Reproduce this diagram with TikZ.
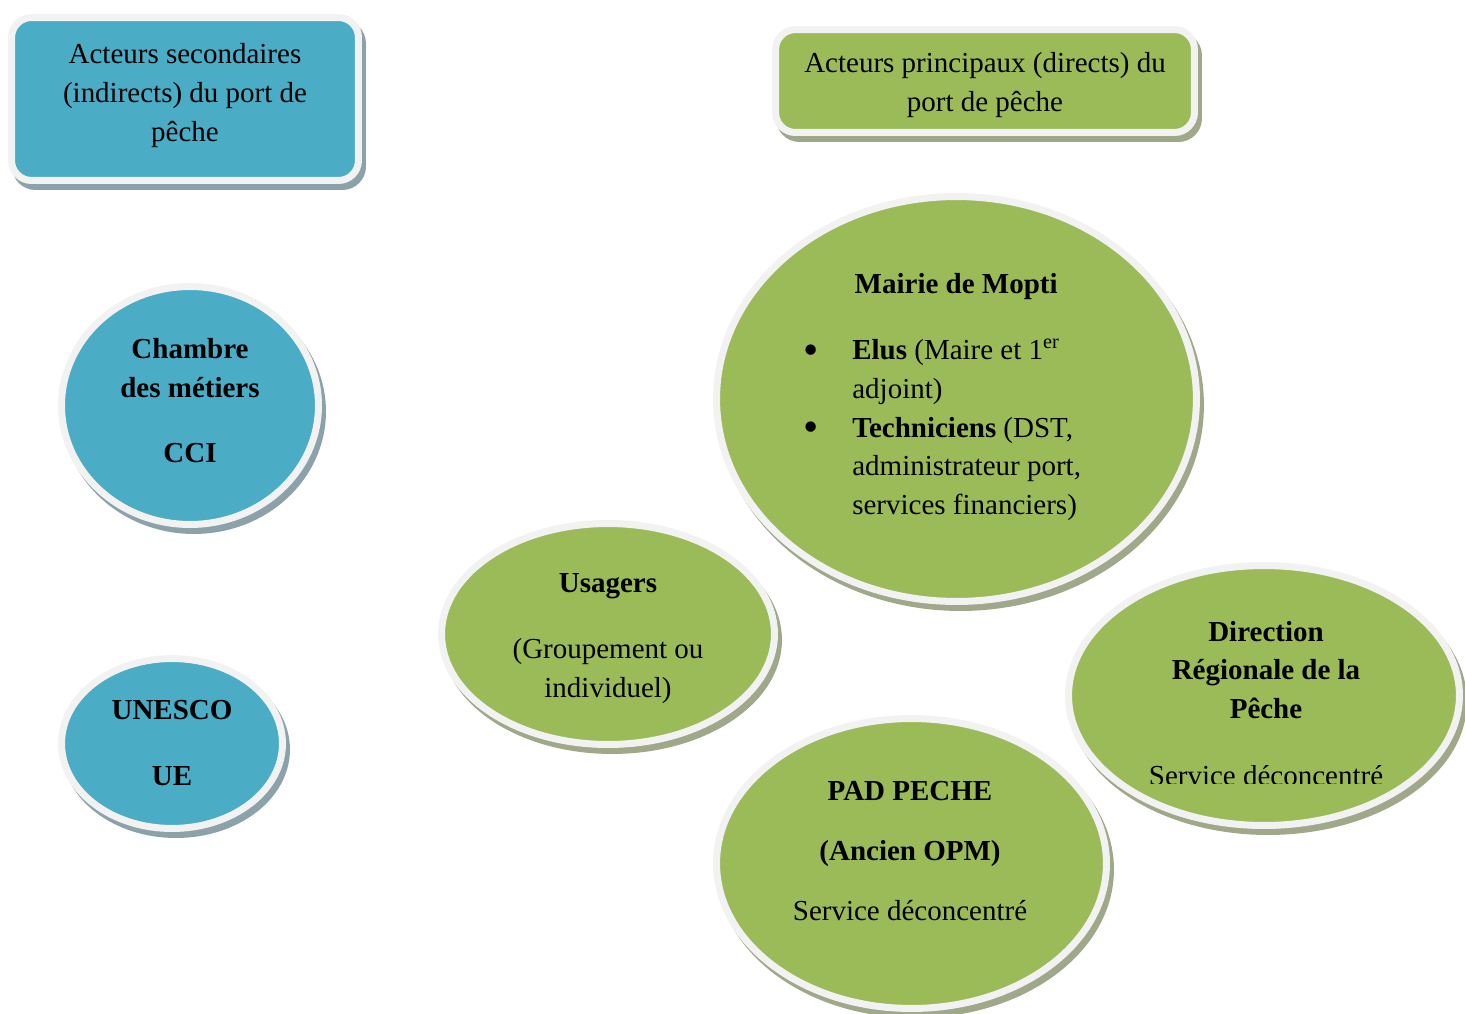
\documentclass[tikz,border=0pt]{standalone}
\usepackage{fontspec}
\setmainfont{Liberation Serif}
\usepackage{trimclip}
\usetikzlibrary{shapes.geometric,shadows}
\definecolor{acblue}{RGB}{75,172,198}
\definecolor{acgreen}{RGB}{155,187,89}
\definecolor{acrim}{RGB}{242,242,242}
\definecolor{acshblue}{RGB}{140,162,170}
\definecolor{acshgreen}{RGB}{160,168,138}

\begin{document}
\begin{tikzpicture}[
    x=0.02cm, y=-0.02cm,
    rim/.style={draw=acrim, line width=0.14cm},
    shd/.style={drop shadow={shadow xshift=0.08cm, shadow yshift=-0.12cm,
        fill=#1, draw=#1, line width=0.14cm, opacity=1}},
    bubble/.style={ellipse, rim, inner sep=0pt},
    card/.style={rectangle, rounded corners=0.4cm, rim, inner sep=0pt},
    tag/.style={font=\fontsize{16.5}{22}\selectfont, align=center, inner sep=0pt, anchor=base},
  ]

  \useasboundingbox (0,0) rectangle (1465,1014);

  % headings (text nodes sit on their last baseline)
  \node[card, shd=acshblue, fill=acblue, minimum width=6.94cm, minimum height=3.26cm] (sec) at (185,99) {};
  \node[card, shd=acshgreen, fill=acgreen, minimum width=8.38cm, minimum height=2.06cm] (dir) at (985,81) {};
  \node[tag] (secT) at (185,141) {Acteurs secondaires\\(indirects) du port de\\pêche};
  \node[tag] (dirT) at (985,111) {Acteurs principaux (directs) du\\port de pêche};

  % secondary actors
  \node[bubble, shd=acshblue, fill=acblue, minimum width=5.14cm, minimum height=4.76cm] (cci) at (190,405.5) {};
  \node[tag] (cciT) at (190,462) {\textbf{Chambre}\\\textbf{des métiers}\\[0.52cm]\textbf{CCI}};
  \node[bubble, shd=acshblue, fill=acblue, minimum width=4.42cm, minimum height=3.40cm] (une) at (172,743.5) {};
  \node[tag] (uneT) at (172,785) {\textbf{UNESCO}\\[0.54cm]\textbf{UE}};

  % main actors
  \node[bubble, shd=acshgreen, fill=acgreen, minimum width=6.66cm, minimum height=4.42cm] (usa) at (608,634) {};
  \node[tag] (usaT) at (608,697) {\textbf{Usagers}\\[0.54cm](Groupement ou\\individuel)};
  \node[bubble, shd=acshgreen, fill=acgreen, minimum width=9.6cm, minimum height=8.1cm] (mai) at (956.5,399) {};
  \node[tag, anchor=base west] (maiT) at (803,293) {%
    \begin{tabular}[t]{@{}p{0.98cm}@{}l@{}}
      \multicolumn{2}{@{}c@{}}{\hspace{0.56cm}\textbf{Mairie de Mopti}}\\[0.567cm]
      \raisebox{-0.16em}{\scalebox{1.5}{\textbullet}} & \textbf{Elus} (Maire et 1\textsuperscript{er}\\
                  & adjoint)\\
      \raisebox{-0.16em}{\scalebox{1.5}{\textbullet}} & \textbf{Techniciens} (DST,\\
                  & administrateur port,\\
                  & services financiers)
    \end{tabular}};
  \node[bubble, shd=acshgreen, fill=acgreen, minimum width=7.82cm, minimum height=5.2cm] (drp) at (1264,695.5) {};
  \node[tag] (drpT) at (1266,783) {\textbf{Direction}\\\textbf{Régionale de la}\\\textbf{Pêche}\\[0.52cm]\clipbox{0pt 1.7pt 0pt 0pt}{Service déconcentré}};
  \node[bubble, shd=acshgreen, fill=acgreen, minimum width=7.8cm, minimum height=5.8cm] (pad) at (911.5,863.5) {};
  \node[tag] (padT) at (910,920) {\textbf{PAD PECHE}\\[0.42cm]\textbf{(Ancien OPM)}\\[0.42cm]Service déconcentré};

\end{tikzpicture}
\end{document}
